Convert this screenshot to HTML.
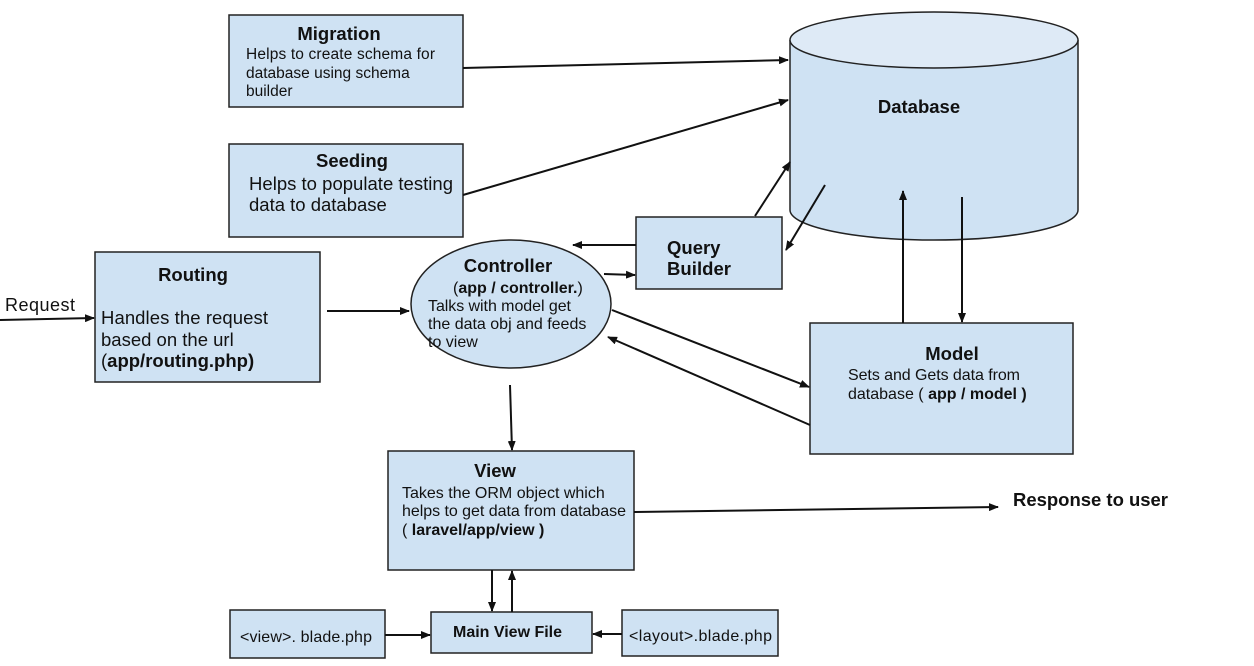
<!DOCTYPE html>
<html><head><meta charset="utf-8"><style>
html,body{margin:0;padding:0;background:#fff;}
svg{display:block;}
text{font-family:"Liberation Sans",Arial,sans-serif;fill:#111;}
.b{font-weight:bold;}
</style></head><body>
<svg width="1254" height="666" viewBox="0 0 1254 666" xmlns="http://www.w3.org/2000/svg">
<defs>
<marker id="a" markerWidth="10" markerHeight="8" refX="9" refY="4" orient="auto" markerUnits="userSpaceOnUse">
<path d="M0,0 L10,4 L0,8 z" fill="#111"/></marker>
</defs>
<g fill="#cfe2f3" stroke="#222" stroke-width="1.5">
<rect x="229" y="15" width="234" height="92"/>
<rect x="229" y="144" width="234" height="93"/>
<rect x="95" y="252" width="225" height="130"/>
<ellipse cx="511" cy="304" rx="100" ry="64"/>
<rect x="636" y="217" width="146" height="72"/>
<path d="M790,40 L790,210 A144,30 0 0 0 1078,210 L1078,40"/>
<ellipse cx="934" cy="40" rx="144" ry="28" fill="#deeaf6"/>
<rect x="810" y="323" width="263" height="131"/>
<rect x="388" y="451" width="246" height="119"/>
<rect x="431" y="612" width="161" height="41"/>
<rect x="230" y="610" width="155" height="48"/>
<rect x="622" y="610" width="156" height="46"/>
</g>
<g stroke="#111" stroke-width="2" fill="none" marker-end="url(#a)">
<line x1="463" y1="68" x2="788" y2="60"/>
<line x1="463" y1="195" x2="788" y2="100"/>
<line x1="755" y1="216" x2="790" y2="162"/>
<line x1="825" y1="185" x2="786" y2="250"/>
<line x1="636" y1="245" x2="573" y2="245"/>
<line x1="604" y1="274" x2="635" y2="275"/>
<line x1="327" y1="311" x2="409" y2="311"/>
<line x1="0" y1="320" x2="94" y2="318"/>
<line x1="612" y1="310" x2="809" y2="387"/>
<line x1="810" y1="425" x2="608" y2="337"/>
<line x1="903" y1="323" x2="903" y2="191"/>
<line x1="962" y1="197" x2="962" y2="322"/>
<line x1="510" y1="385" x2="512" y2="450"/>
<line x1="634" y1="512" x2="998" y2="507"/>
<line x1="492" y1="570" x2="492" y2="611"/>
<line x1="512" y1="612" x2="512" y2="571"/>
<line x1="385" y1="635" x2="430" y2="635"/>
<line x1="622" y1="634" x2="593" y2="634"/>
</g>
<text x="339" y="40" class="b" font-size="18.5" text-anchor="middle">Migration</text>
<text x="246" y="59" font-size="15.5" textLength="189">Helps to create schema for</text>
<text x="246" y="78" font-size="15.5">database using schema</text>
<text x="246" y="96" font-size="15.5">builder</text>
<text x="352" y="167" class="b" font-size="18.5" text-anchor="middle">Seeding</text>
<text x="249" y="190" font-size="18.5" textLength="204">Helps to populate testing</text>
<text x="249" y="211" font-size="18.5">data to database</text>
<text x="193" y="281" class="b" font-size="18.5" text-anchor="middle">Routing</text>
<text x="101" y="324" font-size="18.5" textLength="167">Handles the request</text>
<text x="101" y="346" font-size="18.5">based on the url</text>
<text x="101" y="367" font-size="18.5">(<tspan class="b">app/routing.php)</tspan></text>
<text x="5" y="311" font-size="18" textLength="70">Request</text>
<text x="508" y="272" class="b" font-size="18.5" text-anchor="middle">Controller</text>
<text x="453" y="293" font-size="16">(<tspan class="b">app / controller.</tspan>)</text>
<text x="428" y="311" font-size="16" textLength="143">Talks with model get</text>
<text x="428" y="329" font-size="16">the data obj and feeds</text>
<text x="428" y="347" font-size="16">to view</text>
<text x="667" y="254" class="b" font-size="18.5">Query</text>
<text x="667" y="275" class="b" font-size="18.5" textLength="64">Builder</text>
<text x="919" y="113" class="b" font-size="18.5" text-anchor="middle">Database</text>
<text x="952" y="360" class="b" font-size="18.5" text-anchor="middle">Model</text>
<text x="848" y="380" font-size="16" textLength="172">Sets and Gets data from</text>
<text x="848" y="399" font-size="16">database  (  <tspan class="b">app / model )</tspan></text>
<text x="495" y="477" class="b" font-size="18.5" text-anchor="middle">View</text>
<text x="402" y="498" font-size="16">Takes the ORM object which</text>
<text x="402" y="516" font-size="16" textLength="224">helps to get data from database</text>
<text x="402" y="535" font-size="16">( <tspan class="b">laravel/app/view )</tspan></text>
<text x="453" y="637" class="b" font-size="16" textLength="109">Main View File</text>
<text x="240" y="642" font-size="16" textLength="132">&lt;view&gt;. blade.php</text>
<text x="629" y="641" font-size="16" textLength="143">&lt;layout&gt;.blade.php</text>
<text x="1013" y="506" class="b" font-size="18.5" textLength="155">Response to user</text>
</svg>
</body></html>
